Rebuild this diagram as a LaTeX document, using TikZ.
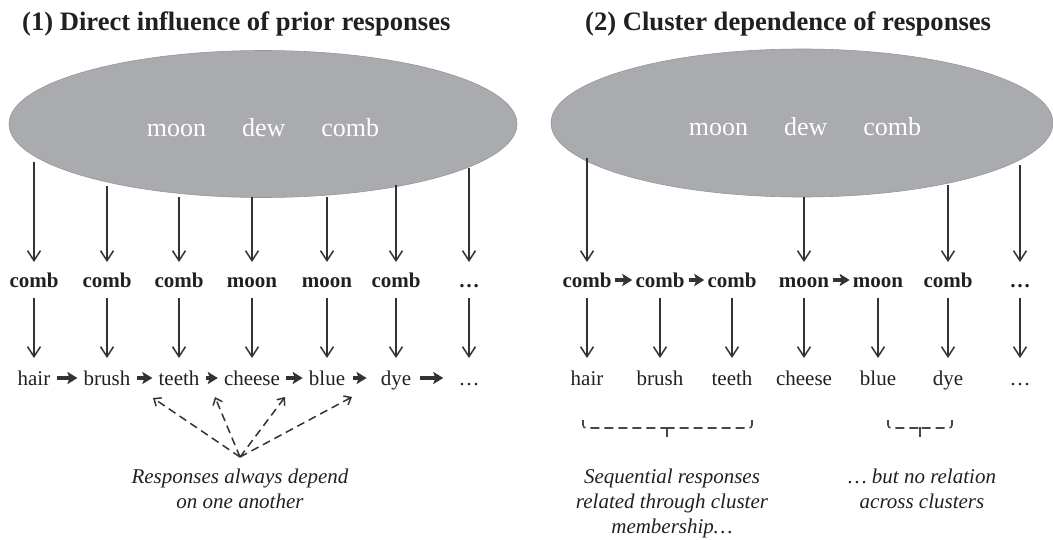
\documentclass[tikz,border=0pt]{standalone}
\usepackage{fontspec}
\setmainfont{Liberation Serif}
\usetikzlibrary{arrows.meta,shapes.geometric}

\begin{document}
\begin{tikzpicture}[
    x=1pt, y=-1pt,
    head/.style={font=\fontsize{26.6}{30}\selectfont\bfseries, text=Ink, inner sep=0pt, anchor=base west},
    pool/.style={ellipse, fill=PoolFill, draw=PoolBorder, line width=0.6pt, inner sep=0pt},
    poolword/.style={font=\fontsize{26}{30}\selectfont, text=white, inner sep=0pt, anchor=base},
    cue/.style={font=\fontsize{21}{25}\selectfont\bfseries, text=Ink, text height=14pt, text depth=0pt,
        inner xsep=2pt, inner ysep=0pt, outer ysep=11pt, anchor=base},
    resp/.style={font=\fontsize{21}{25}\selectfont, text=Ink, text height=14pt, text depth=0pt,
        inner xsep=2pt, inner ysep=0pt, outer ysep=13pt, anchor=base},
    down/.style={-{Straight Barb[length=10pt,width=13pt]}, line width=1.5pt, ArrowInk},
    link/.style={-{Stealth[length=10pt,width=12pt,inset=2pt]}, line width=3.5pt, ArrowInk,
        shorten <=4pt, shorten >=4pt},
    dep/.style={-{Straight Barb[length=6pt,width=10pt]}, line width=1.5pt, ArrowInk, dash pattern=on 8pt off 5pt},
    note/.style={font=\fontsize{21}{25}\selectfont\itshape, text=Ink, align=center, inner sep=0pt, anchor=north},
    group/.style={line width=1.6pt, ArrowInk!90, rounded corners=3pt, dash pattern=on 9pt off 5pt}
]

\definecolor{PoolFill}{RGB}{170,171,175}
\definecolor{PoolBorder}{RGB}{150,151,156}
\definecolor{Ink}{RGB}{35,31,32}
\definecolor{ArrowInk}{RGB}{51,51,51}

\useasboundingbox (0,0) rectangle (1053,539);

% ── Titles ───────────────────────────────────────────────────
\node[head] (title1) at (22,30)  {(1) Direct influence of prior responses};
\node[head] (title2) at (585,30) {(2) Cluster dependence of responses};

% ── Cue pools (grey ellipses) ────────────────────────────────
\node[pool, minimum width=508pt, minimum height=147pt] (lpool) at (263,124) {};
\node[pool, minimum width=502pt, minimum height=148pt] (rpool) at (802,123) {};
\node[poolword] (lcues) at (263,136) {moon\hspace{36pt}dew\hspace{36pt}comb};
\node[poolword] (rcues) at (805,135) {moon\hspace{36pt}dew\hspace{36pt}comb};

% ── Left panel: cues and responses ───────────────────────────
\node[cue] (lc1) at (34,287)  {comb};
\node[cue] (lc2) at (107,287) {comb};
\node[cue] (lc3) at (179,287) {comb};
\node[cue] (lc4) at (252,287) {moon};
\node[cue] (lc5) at (327,287) {moon};
\node[cue] (lc6) at (396,287) {comb};
\node[cue] (lc7) at (469,287) {…};

\node[resp] (lw1) at (34,385)  {hair};
\node[resp] (lw2) at (107,385) {brush};
\node[resp] (lw3) at (179,385) {teeth};
\node[resp] (lw4) at (252,385) {cheese};
\node[resp] (lw5) at (327,385) {blue};
\node[resp] (lw6) at (396,385) {dye};
\node[resp] (lw7) at (469,385) {…};

% ── Right panel: cues and responses ──────────────────────────
\node[cue] (rc1) at (587,287)  {comb};
\node[cue] (rc2) at (660,287)  {comb};
\node[cue] (rc3) at (732,287)  {comb};
\node[cue] (rc4) at (804,287)  {moon};
\node[cue] (rc5) at (878,287)  {moon};
\node[cue] (rc6) at (948,287)  {comb};
\node[cue] (rc7) at (1020,287) {…};

\node[resp] (rw1) at (587,385)  {hair};
\node[resp] (rw2) at (660,385)  {brush};
\node[resp] (rw3) at (732,385)  {teeth};
\node[resp] (rw4) at (804,385)  {cheese};
\node[resp] (rw5) at (878,385)  {blue};
\node[resp] (rw6) at (948,385)  {dye};
\node[resp] (rw7) at (1020,385) {…};

% ── Arrows out of the pools ──────────────────────────────────
\draw[down] ([yshift=100pt]lc1.north) -- (lc1);
\draw[down] ([yshift=76pt]lc2.north)  -- (lc2);
\draw[down] ([yshift=65pt]lc3.north)  -- (lc3);
\draw[down] ([yshift=65pt]lc4.north)  -- (lc4);
\draw[down] ([yshift=65pt]lc5.north)  -- (lc5);
\draw[down] ([yshift=77pt]lc6.north)  -- (lc6);
\draw[down] ([yshift=94pt]lc7.north)  -- (lc7);

\draw[down] ([yshift=104pt]rc1.north) -- (rc1);
\draw[down] ([yshift=65pt]rc4.north)  -- (rc4);
\draw[down] ([yshift=77pt]rc6.north)  -- (rc6);
\draw[down] ([yshift=97pt]rc7.north)  -- (rc7);

% ── Cue -> response ──────────────────────────────────────────
\draw[down] (lc1) -- (lw1);  \draw[down] (lc2) -- (lw2);
\draw[down] (lc3) -- (lw3);  \draw[down] (lc4) -- (lw4);
\draw[down] (lc5) -- (lw5);  \draw[down] (lc6) -- (lw6);
\draw[down] (lc7) -- (lw7);

\draw[down] (rc1) -- (rw1);  \draw[down] (rc2) -- (rw2);
\draw[down] (rc3) -- (rw3);  \draw[down] (rc4) -- (rw4);
\draw[down] (rc5) -- (rw5);  \draw[down] (rc6) -- (rw6);
\draw[down] (rc7) -- (rw7);

% ── Sequential links ─────────────────────────────────────────
\draw[link] (lw1) -- (lw2);  \draw[link] (lw2) -- (lw3);
\draw[link] (lw3) -- (lw4);  \draw[link] (lw4) -- (lw5);
\draw[link, shorten <=6pt, shorten >=12pt] (lw5) -- (lw6);
\draw[link, shorten <=7pt, shorten >=13pt] (lw6) -- (lw7);

\draw[link, shorten <=1pt, shorten >=1pt] (rc1) -- (rc2);
\draw[link, shorten <=2pt, shorten >=1pt] (rc2) -- (rc3);
\draw[link, shorten <=2pt, shorten >=1pt] (rc4) -- (rc5);

% ── Left note with dashed dependencies ───────────────────────
\node[note] (lnote) at (240,469) {Responses always depend\\on one another};
\coordinate (hub) at ([yshift=12pt]lnote.north);
\coordinate (d1) at (153,398);
\coordinate (d2) at (215,397);
\coordinate (d3) at (285,397);
\coordinate (d4) at (352,397);
\draw[dep] (hub) -- (d1);
\draw[dep] (hub) -- (d2);
\draw[dep] (hub) -- (d3);
\draw[dep] (hub) -- (d4);

% ── Right notes with cluster brackets ────────────────────────
\draw[group] (583,420) |- (667,428);
\draw[group] (752,420) |- (667,428);
\draw[line width=1.6pt, ArrowInk!90] (667,427) -- (667,437);
\draw[group] (888,420) |- (920,428);
\draw[group] (952,420) |- (920,428);
\draw[line width=1.6pt, ArrowInk!90] (920,427) -- (920,437);
\node[note] (rnote1) at (672,469) {Sequential responses\\related through cluster\\membership…};
\node[note] (rnote2) at (922,469) {… but no relation\\across clusters};

\end{tikzpicture}
\end{document}
